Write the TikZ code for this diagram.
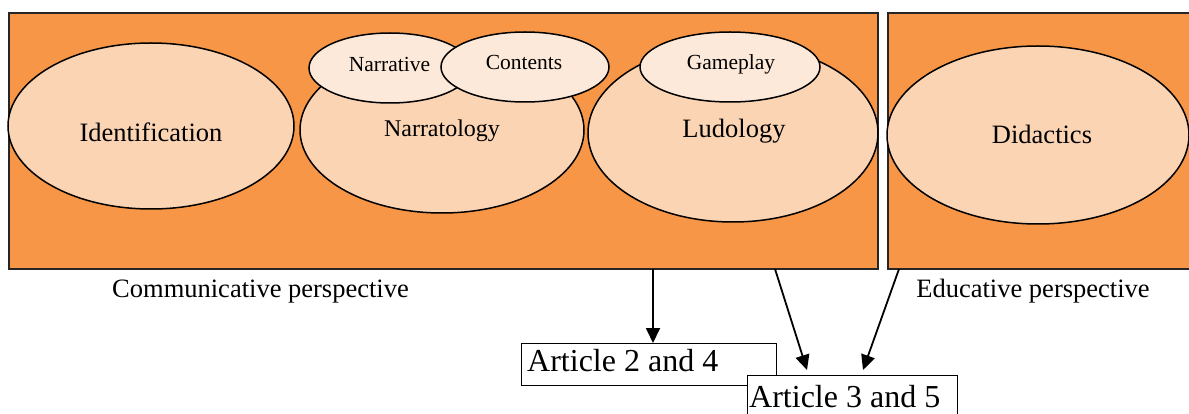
\documentclass[tikz,border=0pt]{standalone}
\usepackage{fontspec}
\setmainfont{Liberation Serif}
\usetikzlibrary{shapes.geometric,arrows.meta,calc}
\definecolor{orangebg}{HTML}{F79646}
\definecolor{peach}{HTML}{FBD4B4}
\definecolor{lightpeach}{HTML}{FDE9D9}
\begin{document}
\begin{tikzpicture}[x=1pt,y=-1pt,
  panel/.style={draw=black!85, line width=1.6pt, fill=orangebg, rectangle, inner sep=0pt, anchor=north west},
  bigell/.style={ellipse, draw=black, line width=1.5pt, fill=peach, inner sep=0pt},
  smallell/.style={ellipse, draw=black, line width=1.5pt, fill=lightpeach, inner sep=0pt},
  lbl/.style={inner sep=0pt, anchor=base, text=black},
  artbox/.style={draw=black, line width=1.3pt, fill=white, rectangle, inner sep=0pt, anchor=north west},
  arr/.style={line width=1.8pt, -{Triangle[length=15pt,width=14pt]}}
]
\useasboundingbox (0,0) rectangle (1189,414);
\clip (0,0) rectangle (1189,414);
\fill[white] (0,0) rectangle (1189,414);
% panels
\node[panel, minimum width=869pt, minimum height=256pt] (comm) at (8,12) {};
\node[panel, minimum width=312pt, minimum height=256pt] (educ) at (887,12) {};
% ellipses
\node[bigell, minimum width=286pt, minimum height=166pt] (ident) at (151,126) {};
\node[bigell, minimum width=284pt, minimum height=166pt] (narr) at (442,130) {};
\node[smallell, minimum width=162pt, minimum height=70pt] (narrative) at (390,68) {};
\node[smallell, minimum width=168pt, minimum height=70pt] (contents) at (525,67) {};
\node[bigell, minimum width=290pt, minimum height=178pt] (ludo) at (733,133) {};
\node[smallell, minimum width=180pt, minimum height=70pt] (game) at (730,67) {};
\node[bigell, minimum width=302pt, minimum height=178pt] (didac) at (1038,135) {};
% labels
\node[lbl, font=\fontsize{26.5}{30}\selectfont] (identt) at (151,142) {Identification};
\node[lbl, font=\fontsize{24}{28}\selectfont] (narrt) at (442,137) {Narratology};
\node[lbl, font=\fontsize{21.5}{25}\selectfont] (narrativet) at (389.5,72) {Narrative};
\node[lbl, font=\fontsize{21.5}{25}\selectfont] (contentst) at (524,70) {Contents};
\node[lbl, font=\fontsize{26.5}{30}\selectfont] (ludot) at (734,138) {Ludology};
\node[lbl, font=\fontsize{21.5}{25}\selectfont] (gamet) at (731,70) {Gameplay};
\node[lbl, font=\fontsize{26.5}{30}\selectfont] (didact) at (1042,144) {Didactics};
\node[lbl, font=\fontsize{26.5}{30}\selectfont] (commt) at (260.5,298) {Communicative perspective};
\node[lbl, font=\fontsize{26.5}{30}\selectfont] (educt) at (1033,298) {Educative perspective};
% article boxes
\node[artbox, minimum width=255pt, minimum height=42pt] (art24) at (521,343) {};
\node[lbl, anchor=base west, font=\fontsize{32}{36}\selectfont] (art24t) at (527,371) {Article 2 and 4};
\node[artbox, minimum width=210pt, minimum height=60pt] (art35) at (747,375) {};
\node[lbl, anchor=base west, font=\fontsize{32}{36}\selectfont] (art35t) at (749,407) {Article 3 and 5};
% arrows
\coordinate (a1s) at (653,269);
\coordinate (a2s) at (775,269);
\coordinate (a2e) at (807,370);
\coordinate (a3s) at (899,269);
\coordinate (a3e) at (863,370);
\draw[arr] (a1s) -- (a1s |- art24.north);
\draw[arr] (a2s) -- (a2e);
\draw[arr] (a3s) -- (a3e);
\end{tikzpicture}
\end{document}
